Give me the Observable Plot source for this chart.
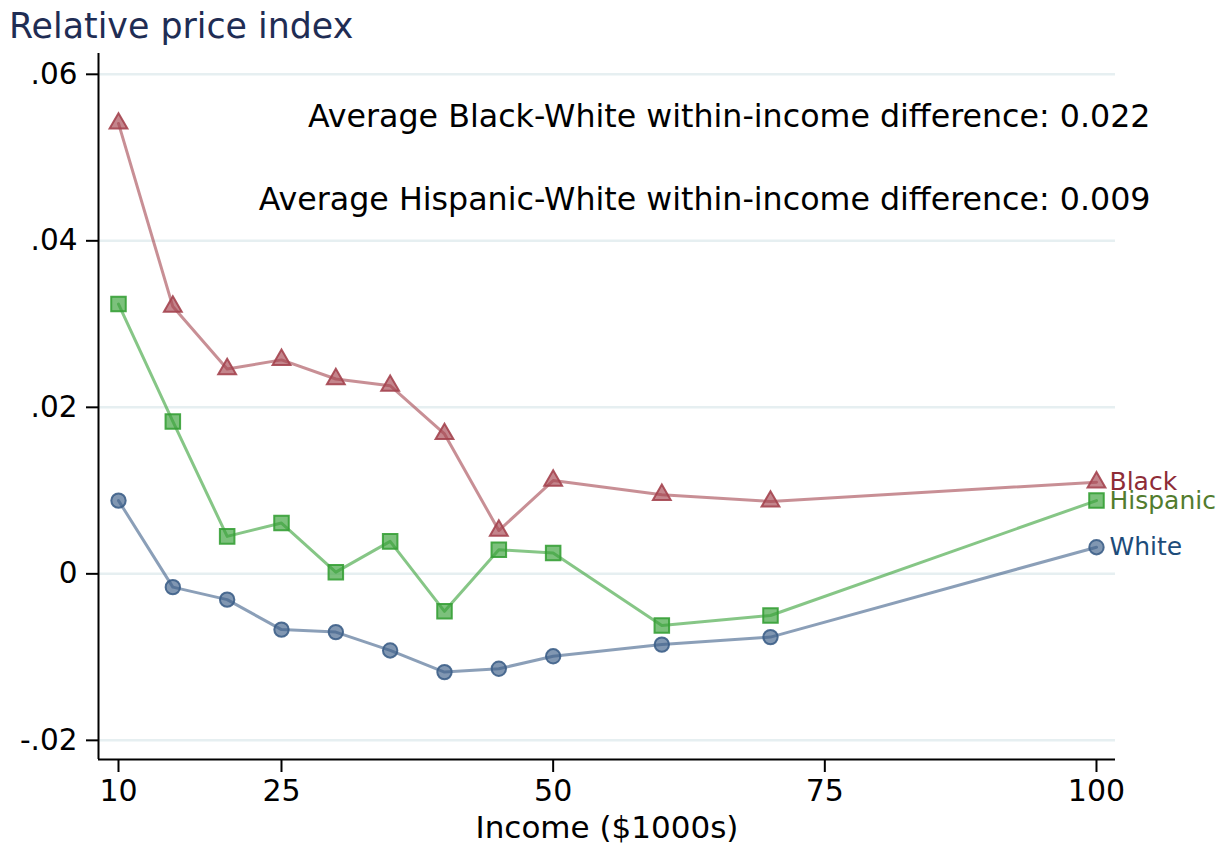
<!DOCTYPE html>
<html>
<head>
<meta charset="utf-8">
<script src="https://cdn.jsdelivr.net/npm/d3@7"></script>
<script src="https://cdn.jsdelivr.net/npm/@observablehq/plot@0.6"></script>
<style>
  html, body { margin: 0; background: #fff; }
  body { font-family: "DejaVu Sans", sans-serif; width: 1230px; height: 844px; overflow: hidden; }
  #title {
    height: 49px; box-sizing: border-box; padding: 3px 0 0 9px;
    line-height: 46px; font-size: 34.8px; color: #1f2d54; white-space: nowrap;
  }
</style>
</head>
<body>
<div id="title">Relative price index</div>
<div id="chart"></div>
<script>
// Income bins ($1000s) and relative price index by group
const income   = [10, 15, 20, 25, 30, 35, 40, 45, 50, 60, 70, 100];
const black    = [0.0541, 0.0321, 0.0246, 0.0257, 0.0234, 0.0226, 0.0168, 0.0052, 0.0112, 0.0095, 0.0087, 0.0110];
const hispanic = [0.0324, 0.0183, 0.0045, 0.0061, 0.0002, 0.0039, -0.0045, 0.0029, 0.0025, -0.0062, -0.0050, 0.0088];
const white    = [0.0088, -0.0016, -0.0031, -0.0067, -0.0070, -0.0092, -0.0118, -0.0114, -0.0099, -0.0085, -0.0076, 0.0032];

const groups = ["Black", "Hispanic", "White"];
const notes = [
  "Average Black-White within-income difference: 0.022",
  "Average Hispanic-White within-income difference: 0.009"
];
const xTicks = [10, 25, 50, 75, 100];
const yTicks = [-0.02, 0, 0.02, 0.04, 0.06];
const xLabel = "Income ($1000s)";

// Drawing styles per group
const styles = {
  Black:    {values: black,    symbol: "triangle", r: 6.6, base: "#a4444f", label: "#8e2c37"},
  Hispanic: {values: hispanic, symbol: "square",   r: 8.2, base: "#36a036", label: "#527c2e"},
  White:    {values: white,    symbol: "circle",   r: 7.2, base: "#3d5f88", label: "#1d4c7a"}
};

const xDomain = [8.16, 101.75];
const yDomain = [-0.0223, 0.0625];

// Stata-style labels: no leading zero, plain hyphen for negatives
const fmt = d => d === 0 ? "0" : (d < 0 ? "-" : "") + Math.abs(d).toFixed(2).replace(/^0/, "");

const seriesMarks = [];
for (const g of groups) {
  const s = styles[g];
  const rows = income.map((x, i) => ({income: x, value: s.values[i]}));
  seriesMarks.push(Plot.line(rows, {
    x: "income", y: "value", stroke: s.base, strokeOpacity: 0.6, strokeWidth: 3
  }));
}
for (const g of groups) {
  const s = styles[g];
  const rows = income.map((x, i) => ({income: x, value: s.values[i]}));
  seriesMarks.push(Plot.dot(rows, {
    x: "income", y: "value", symbol: s.symbol, r: s.r,
    fill: s.base, fillOpacity: 0.65, stroke: s.base, strokeOpacity: 0.9, strokeWidth: 2
  }));
  const last = rows[rows.length - 1];
  seriesMarks.push(Plot.text([last], {
    x: "income", y: "value", text: () => g, dx: 13, textAnchor: "start",
    lineAnchor: "middle", fill: s.label, fontSize: 25
  }));
}

const chart = Plot.plot({
  width: 1230,
  height: 795,
  marginTop: 4,
  marginBottom: 85,
  marginLeft: 98,
  marginRight: 115,
  style: {fontFamily: '"DejaVu Sans", sans-serif', background: "#fff", color: "#000", overflow: "visible"},
  x: {domain: xDomain},
  y: {domain: yDomain},
  marks: [
    Plot.gridY(yTicks, {stroke: "#e6eff1", strokeOpacity: 1, strokeWidth: 2.5}),
    Plot.axisY(yTicks, {
      tickSize: 12, tickPadding: 9, fontSize: 29.5, tickFormat: fmt,
      stroke: "#000", strokeWidth: 2, label: null
    }),
    Plot.axisX(xTicks, {
      tickSize: 13, tickPadding: 7, fontSize: 30,
      stroke: "#000", strokeWidth: 2, label: null
    }),
    Plot.ruleX([xDomain[0]], {stroke: "#000", strokeWidth: 2}),
    Plot.ruleY([yDomain[0]], {stroke: "#000", strokeWidth: 2}),
    Plot.text([xLabel], {
      text: d => d, frameAnchor: "bottom", lineAnchor: "bottom", dy: 78, fontSize: 31, fill: "#000"
    }),
    Plot.text([notes[0]], {
      text: d => d, frameAnchor: "top-right", textAnchor: "end", lineAnchor: "middle",
      dx: 35, dy: 63, fontSize: 31.7, fill: "#000"
    }),
    Plot.text([notes[1]], {
      text: d => d, frameAnchor: "top-right", textAnchor: "end", lineAnchor: "middle",
      dx: 35, dy: 146, fontSize: 31.7, fill: "#000"
    }),
    ...seriesMarks
  ]
});

document.getElementById("chart").appendChild(chart);
</script>
</body>
</html>
